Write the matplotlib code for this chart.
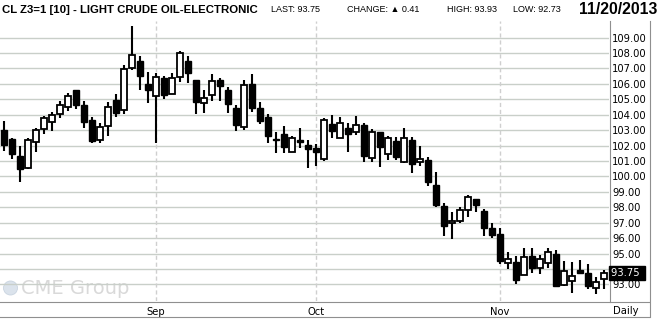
import matplotlib
matplotlib.use('Agg')
import matplotlib.pyplot as plt
from matplotlib.patches import Rectangle, Circle
from matplotlib.ticker import FixedLocator, FixedFormatter
import matplotlib.transforms as mtransforms

# ---- data (daily OHLC, Aug 7 .. Nov 20 2013) ----
opens = [103.03, 102.45, 101.35, 100.54, 102.23, 103.09, 103.52, 104.04, 104.49, 105.61,
         104.60, 103.66, 102.34, 103.25, 104.93, 104.28, 107.00, 107.45, 105.96, 105.23,
         106.35, 105.31, 106.41, 107.45, 106.22, 104.73, 105.25, 106.24, 105.59, 104.43,
         103.21, 106.01, 104.46, 103.83, 102.45, 102.73, 101.61, 102.34, 102.04, 101.84,
         101.15, 103.37, 102.51, 103.11, 102.87, 103.31, 101.19, 102.85, 101.45, 102.29,
         100.95, 102.36, 100.92, 101.05, 99.44, 98.11, 96.99, 97.12, 97.83, 98.54,
         97.79, 96.63, 96.30, 94.41, 94.48, 93.61, 94.85, 94.07, 94.37, 95.00,
         92.96, 93.24, 93.91, 93.76, 92.74, 93.34]
highs = [103.61, 102.50, 102.00, 102.51, 103.16, 103.93, 104.19, 104.90, 105.41, 105.62,
         104.88, 103.83, 103.44, 104.80, 105.34, 107.19, 109.73, 107.79, 106.74, 106.67,
         106.50, 106.67, 108.12, 107.79, 106.22, 105.57, 106.63, 106.35, 105.81, 104.63,
         106.22, 106.66, 104.84, 104.07, 102.86, 103.29, 102.60, 103.16, 102.36, 102.12,
         103.76, 103.98, 103.83, 103.48, 103.91, 103.48, 103.05, 102.85, 102.61, 102.57,
         103.12, 102.53, 101.97, 101.24, 100.30, 98.28, 97.70, 98.02, 98.82, 98.54,
         97.89, 96.99, 96.63, 95.13, 94.85, 95.39, 95.35, 94.89, 95.39, 95.22,
         94.54, 94.43, 94.57, 94.30, 93.46, 93.93]
lows = [101.63, 101.12, 99.63, 100.47, 101.57, 102.73, 102.92, 103.76, 104.21, 104.38,
        103.16, 102.15, 102.15, 102.64, 103.87, 104.06, 106.89, 105.60, 104.78, 102.19,
        105.01, 105.31, 106.13, 106.07, 104.02, 104.13, 104.91, 104.88, 104.13, 102.97,
        103.03, 104.18, 103.42, 102.19, 101.53, 101.53, 101.57, 101.81, 100.57, 100.70,
        101.03, 102.51, 102.51, 101.60, 102.68, 100.93, 100.95, 100.58, 101.06, 101.06,
        100.88, 100.21, 100.70, 99.35, 98.02, 96.13, 95.96, 96.97, 97.36, 97.68,
        96.16, 96.00, 94.31, 94.02, 93.00, 93.60, 93.76, 93.67, 94.04, 92.83,
        92.89, 92.46, 93.70, 92.72, 92.41, 92.73]
closes = [102.02, 101.44, 100.49, 102.38, 103.03, 103.78, 103.97, 104.62, 105.20, 104.66,
          103.50, 102.32, 103.22, 104.52, 104.09, 106.93, 107.84, 106.52, 105.62, 106.41,
          105.29, 106.35, 107.97, 106.72, 104.84, 105.06, 106.16, 105.87, 104.71, 103.35,
          105.90, 104.46, 103.62, 102.63, 102.34, 101.91, 102.50, 102.24, 101.78, 101.60,
          103.65, 102.92, 103.48, 102.72, 103.33, 101.34, 102.85, 101.92, 102.46, 101.27,
          102.47, 100.79, 101.11, 99.61, 98.17, 96.78, 97.14, 97.85, 98.67, 98.13,
          96.65, 96.21, 94.52, 94.63, 93.28, 94.80, 94.09, 94.63, 95.13, 92.87,
          93.89, 93.57, 93.74, 92.91, 93.13, 93.75]

month_labels = ['Sep', 'Oct', 'Nov']
month_index = [19, 39, 62]          # first trading day of each month
price_ticks = list(range(93, 110))
last_price = 93.75
header_items = ['LAST: 93.75', 'CHANGE: \u25b2 0.41', 'HIGH: 93.93', 'LOW: 92.73']
title_text = 'CL Z3=1 [10] - LIGHT CRUDE OIL-ELECTRONIC'
date_text = '11/20/2013'

# ---- figure ----
W, H = 659, 322
fig = plt.figure(figsize=(W / 100, H / 100), dpi=100)
fig.patch.set_facecolor('white')

def px_rect(x0, y0, x1, y1):
    return [x0 / W, 1 - y1 / H, (x1 - x0) / W, (y1 - y0) / H]

# overlay for frame, header, watermark (drawn beneath the chart)
ov = fig.add_axes([0, 0, 1, 1], zorder=0)
ov.set_xlim(0, W)
ov.set_ylim(H, 0)
ov.axis('off')

ax = fig.add_axes(px_rect(0, 21, 609, 301), zorder=1)
ax.set_facecolor('none')
n = len(opens)
ax.set_xlim(-0.5, 75.625)
ax.set_ylim(91.93, 110.07)
for s in ax.spines.values():
    s.set_visible(False)

# horizontal grid
for p in price_ticks:
    ax.axhline(p, color='#c9cfc9', lw=1.0, zorder=0)
# month separators
for m in month_index:
    ax.axvline(m, color='#cfcfcf', lw=1.0, ls=(0, (3, 2)), zorder=0)

# candles
bw = 0.68
for i in range(n):
    o, h, l, c = opens[i], highs[i], lows[i], closes[i]
    ax.vlines(i, l, h, color='black', lw=1.5, zorder=2)
    bottom = min(o, c)
    height = max(abs(c - o), 0.08)
    if c >= o:
        ax.add_patch(Rectangle((i - bw / 2, bottom), bw, height, facecolor='white',
                               edgecolor='black', lw=1.3, zorder=3))
    else:
        ax.add_patch(Rectangle((i - bw / 2, bottom), bw, height, facecolor='black',
                               edgecolor='black', lw=1.0, zorder=3))

# y ticks on right
ax.yaxis.tick_right()
ax.yaxis.set_major_locator(FixedLocator(price_ticks))
ax.yaxis.set_major_formatter(FixedFormatter(['' if p == 94 else f'{p:.2f}' for p in price_ticks]))
ax.tick_params(axis='y', length=0, pad=2.2, labelsize=7.2, labelcolor='black')

# x ticks (months)
ax.xaxis.set_major_locator(FixedLocator(month_index))
ax.xaxis.set_major_formatter(FixedFormatter(month_labels))
ax.tick_params(axis='x', length=0, pad=4.5, labelsize=7.2)

# last price box
trans = mtransforms.blended_transform_factory(ax.transAxes, ax.transData)
ax.text(1.003, last_price, '93.75 ', transform=trans, ha='left', va='center', fontsize=7.2,
        color='white', clip_on=False, zorder=5,
        bbox=dict(boxstyle='square,pad=0.2', facecolor='black', edgecolor='black'))

lc = '#8f8f8f'
ov.plot([0, 649], [301.5, 301.5], color=lc, lw=0.8)
ov.plot([0, 649], [316.5, 316.5], color=lc, lw=0.8)
ov.plot([609.5, 609.5], [21, 301.5], color=lc, lw=0.8)
ov.plot([649.5, 649.5], [21, 316.5], color=lc, lw=0.8)
ov.text(626, 311, 'Daily', ha='center', va='center', fontsize=7.2)

# watermark
ov.add_patch(Circle((10.5, 288), 7, facecolor='#dbe3ec', edgecolor='#c9d4e0', lw=0.6))
ov.text(21, 288.5, 'CME Group', ha='left', va='center', fontsize=14, color='#d9d9d9')

fam = ['Liberation Sans Narrow', 'Liberation Sans', 'DejaVu Sans']
fig.canvas.draw()
def fit_text(x0, x1, s, weight, fs0):
    t = ov.text(x0, 9.5, s, ha='left', va='center', fontsize=fs0, fontweight=weight,
                family=fam)
    fig.canvas.draw()
    w = t.get_window_extent().width
    fs = fs0 * (x1 - x0) / w
    t.set_fontsize(fs)
    return fs

fit_text(2, 257, title_text, 'bold', 9)
fs_items = fit_text(271, 320, header_items[0], 'normal', 7)
for x0, s in zip([347, 447, 513], header_items[1:]):
    ov.text(x0, 9.5, s, ha='left', va='center', fontsize=fs_items, family=fam)
fit_text(579, 657, date_text, 'bold', 9)

fig.savefig('out.png', dpi=100, facecolor='white')
